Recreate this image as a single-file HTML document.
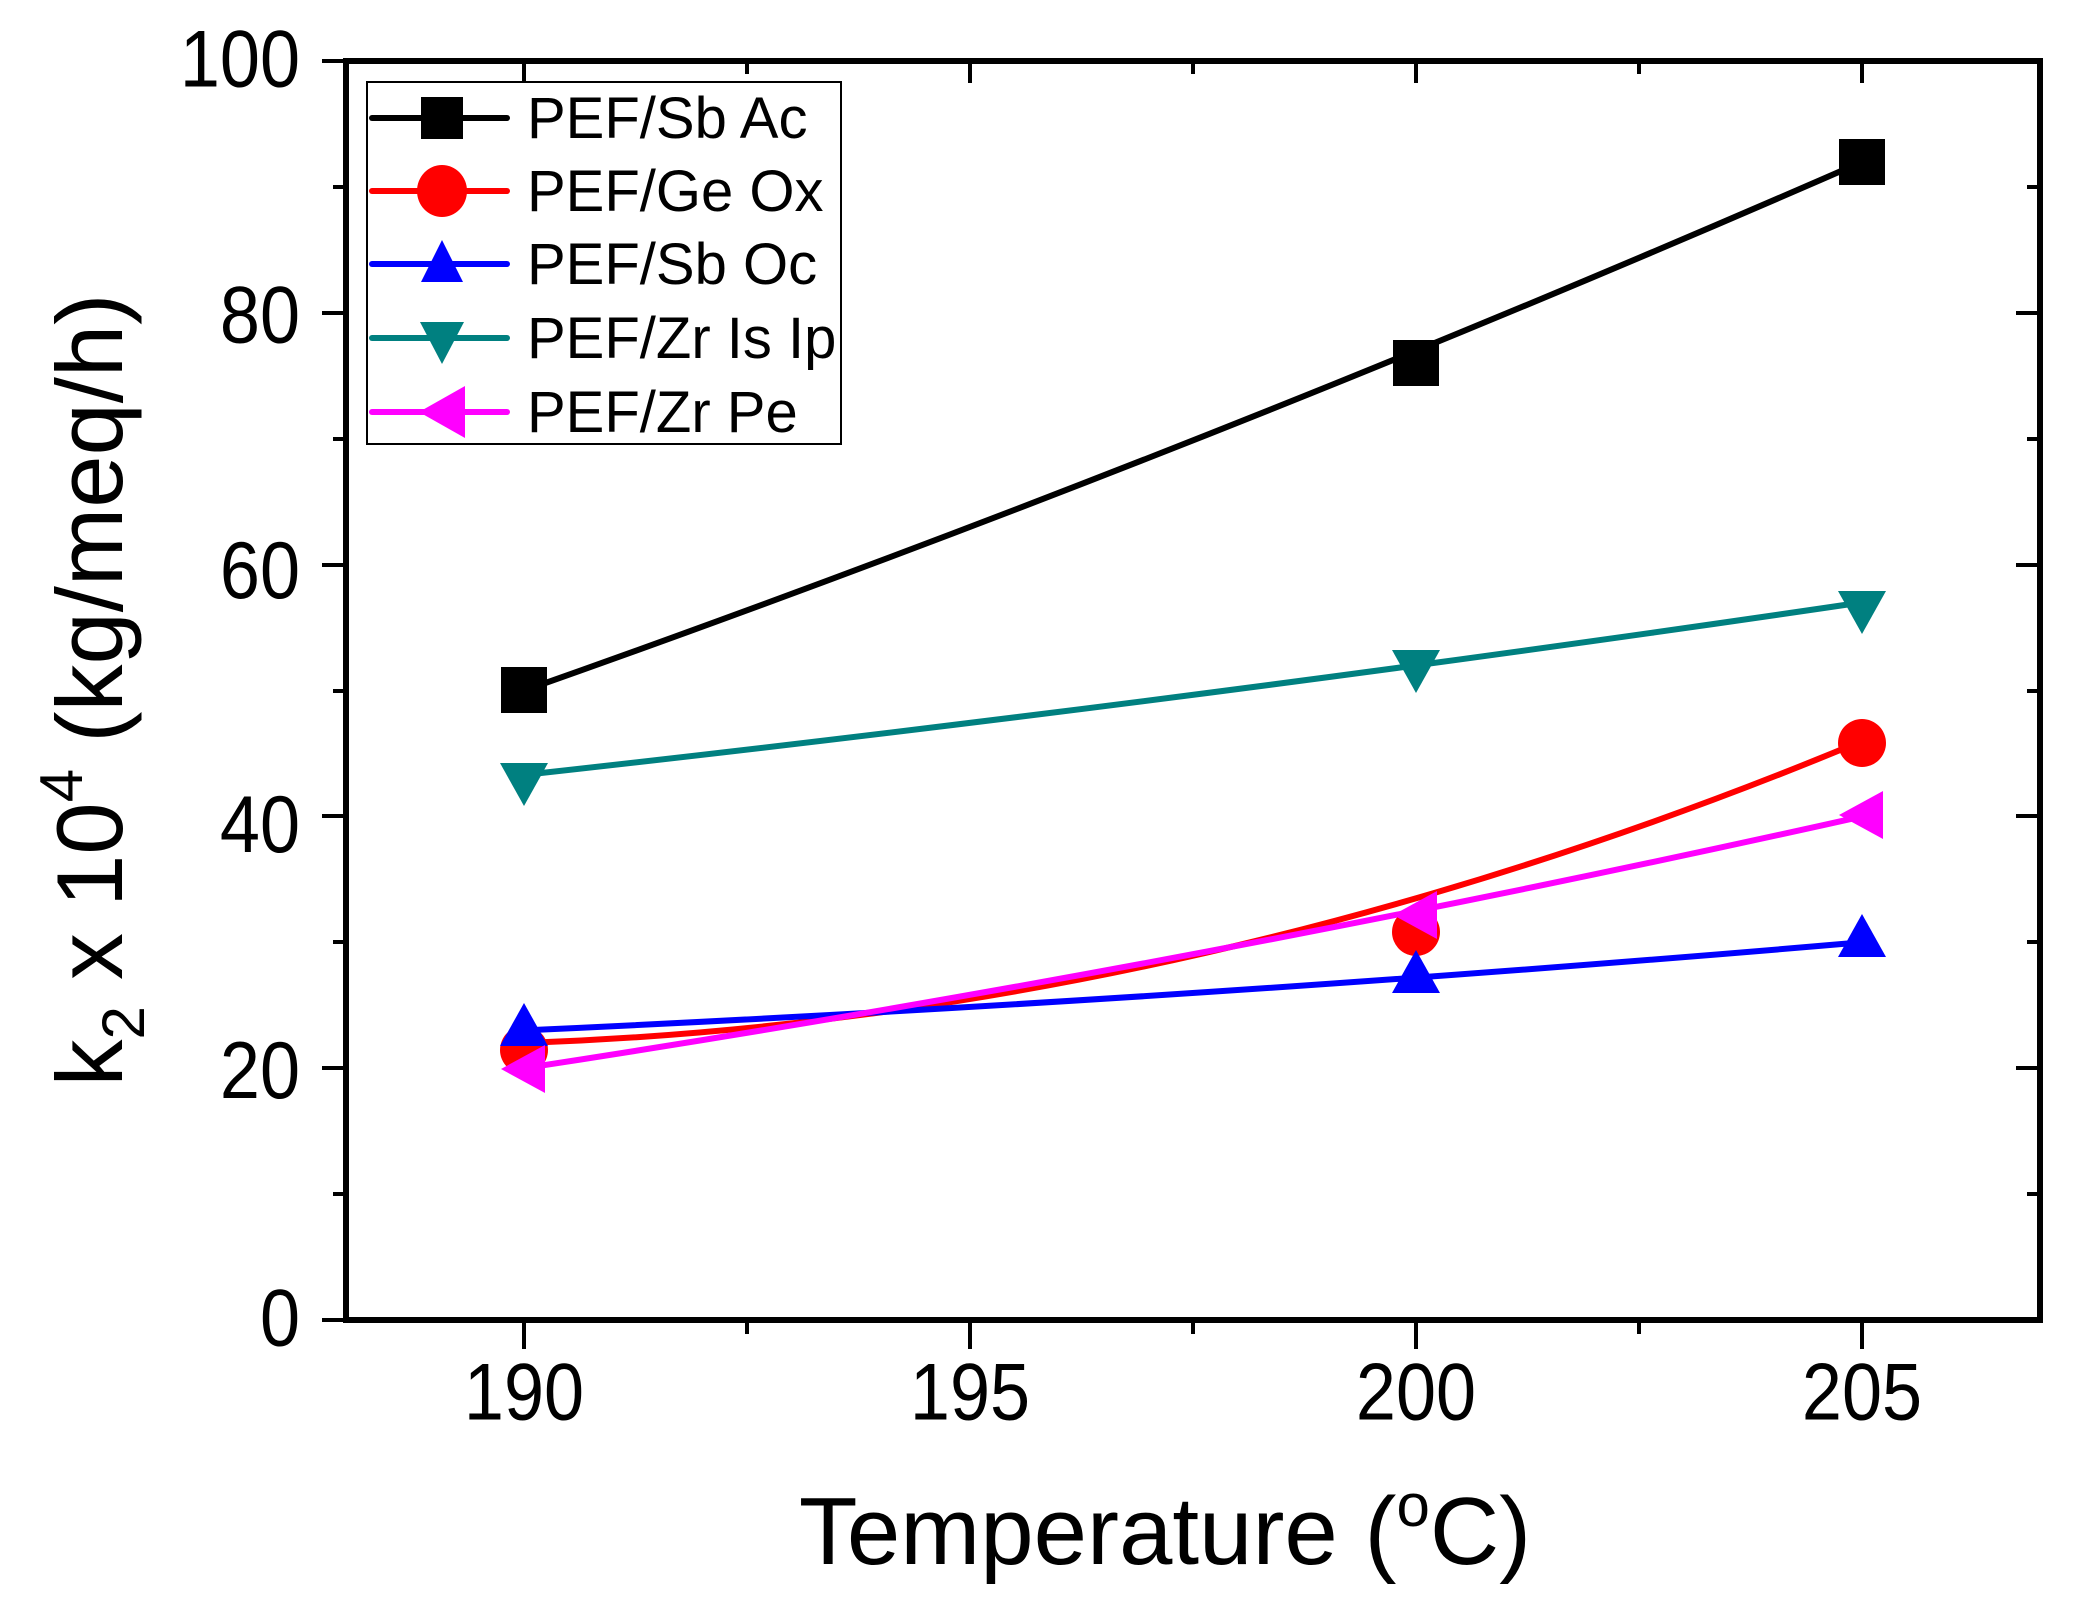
<!DOCTYPE html>
<html><head><meta charset="utf-8"><style>html,body{margin:0;padding:0;background:#fff}svg{display:block}</style></head>
<body>
<svg width="2079" height="1617" viewBox="0 0 2079 1617" xmlns="http://www.w3.org/2000/svg" font-family="'Liberation Sans', Arial, sans-serif">
<rect width="2079" height="1617" fill="#fff"/>
<g fill="none" stroke-width="6">
<path d="M524.3,690.5 Q1193.3,454.4 1862.3,161.7" stroke="#000"/>
<path d="M524.3,1043 Q1193.3,1019.4 1862.3,740.9" stroke="#f00"/>
<path d="M524.3,1030.4 Q1193.3,999.6 1862.3,942.3" stroke="#00f"/>
<path d="M524.3,774.9 Q1193.3,700.9 1862.3,602.4" stroke="#008080"/>
<path d="M524.3,1068.2 Q1193.3,965.9 1862.3,816.4" stroke="#f0f"/>
</g>
<g fill="#000">
<rect x="501" y="667" width="46" height="46"/><rect x="1393" y="340" width="46" height="46"/><rect x="1839" y="139" width="46" height="46"/>
</g>
<g fill="#f00">
<circle cx="524" cy="1050" r="24"/><circle cx="1416" cy="932" r="24"/><circle cx="1862" cy="743" r="24"/>
</g>
<g fill="#00f">
<polygon points="524,1003 548,1046 500,1046"/><polygon points="1416,950 1440,993 1392,993"/><polygon points="1862,914 1886,957 1838,957"/>
</g>
<g fill="#008080">
<polygon points="500,763 548,763 524,806"/><polygon points="1392,650 1440,650 1416,693"/><polygon points="1838,591 1886,591 1862,634"/>
</g>
<g fill="#f0f">
<polygon points="501,1069 545,1045 545,1093"/><polygon points="1393,915 1437,891 1437,939"/><polygon points="1839,815 1883,791 1883,839"/>
</g>
<rect x="346" y="61" width="1694" height="1259" fill="none" stroke="#000" stroke-width="6"/>
<g stroke="#000" stroke-width="4">
<path d="M322,1320H346M322,1068H346M322,816H346M322,565H346M322,313H346M322,61H346"/>
<path d="M2016,1068H2040M2016,816H2040M2016,565H2040M2016,313H2040"/>
<path d="M333,1194H346M333,942H346M333,691H346M333,439H346M333,187H346"/>
<path d="M2027,1194H2040M2027,942H2040M2027,691H2040M2027,439H2040M2027,187H2040"/>
<path d="M524,1320V1349M970,1320V1349M1416,1320V1349M1862,1320V1349"/>
<path d="M747,1320V1334M1193,1320V1334M1639,1320V1334"/>
<path d="M524,61V83M970,61V83M1416,61V83M1862,61V83"/>
<path d="M747,61V74M1193,61V74M1639,61V74"/>
</g>
<g font-size="72" fill="#000" text-anchor="end">
<text x="300" y="1345" transform="translate(0,-161) scale(1,1.12)">0</text>
<text transform="translate(0,-126) scale(1,1.12)" x="300" y="1093">20</text>
<text transform="translate(0,-90) scale(1,1.12)" x="300" y="841">40</text>
<text transform="translate(0,-63) scale(1,1.12)" x="300" y="590">60</text>
<text transform="translate(0,-36) scale(1,1.12)" x="300" y="338">80</text>
<text transform="translate(0,-10) scale(1,1.12)" x="300" y="86">100</text>
</g>
<g font-size="72" fill="#000" text-anchor="middle" transform="translate(0,-170) scale(1,1.12)">
<text x="524" y="1419">190</text><text x="970" y="1419">195</text><text x="1416" y="1419">200</text><text x="1862" y="1419">205</text>
</g>
<text x="1165" y="1564" font-size="96" text-anchor="middle">Temperature (<tspan font-size="60" dy="-38">o</tspan><tspan dy="38">C)</tspan></text>
<g transform="translate(122,690) rotate(-90)">
<text x="0" y="0" font-size="94" text-anchor="middle">k<tspan font-size="60" dy="22">2</tspan><tspan dy="-22"> x 10</tspan><tspan font-size="60" dy="-40">4</tspan><tspan dy="40">  (kg/meq/h)</tspan></text>
</g>
<rect x="367" y="82" width="474" height="362" fill="#fff" stroke="#000" stroke-width="2"/>
<g stroke-width="6" stroke-linecap="round">
<line x1="372" y1="118" x2="507" y2="118" stroke="#000"/>
<line x1="372" y1="191" x2="507" y2="191" stroke="#f00"/>
<line x1="372" y1="264" x2="507" y2="264" stroke="#00f"/>
<line x1="372" y1="338" x2="507" y2="338" stroke="#008080"/>
<line x1="372" y1="412" x2="507" y2="412" stroke="#f0f"/>
</g>
<rect x="421" y="97" width="42" height="42" fill="#000"/>
<ellipse cx="442" cy="191" rx="25" ry="26" fill="#f00"/>
<polygon points="442,240 463,282 421,282" fill="#00f"/>
<polygon points="420,322 464,322 442,364" fill="#008080"/>
<polygon points="419,412 465,386 465,438" fill="#f0f"/>
<g font-size="58" fill="#000">
<text x="527" y="138">PEF/Sb Ac</text>
<text x="527" y="211">PEF/Ge Ox</text>
<text x="527" y="284">PEF/Sb Oc</text>
<text x="527" y="358">PEF/Zr Is Ip</text>
<text x="527" y="432">PEF/Zr Pe</text>
</g>
</svg>
</body></html>
